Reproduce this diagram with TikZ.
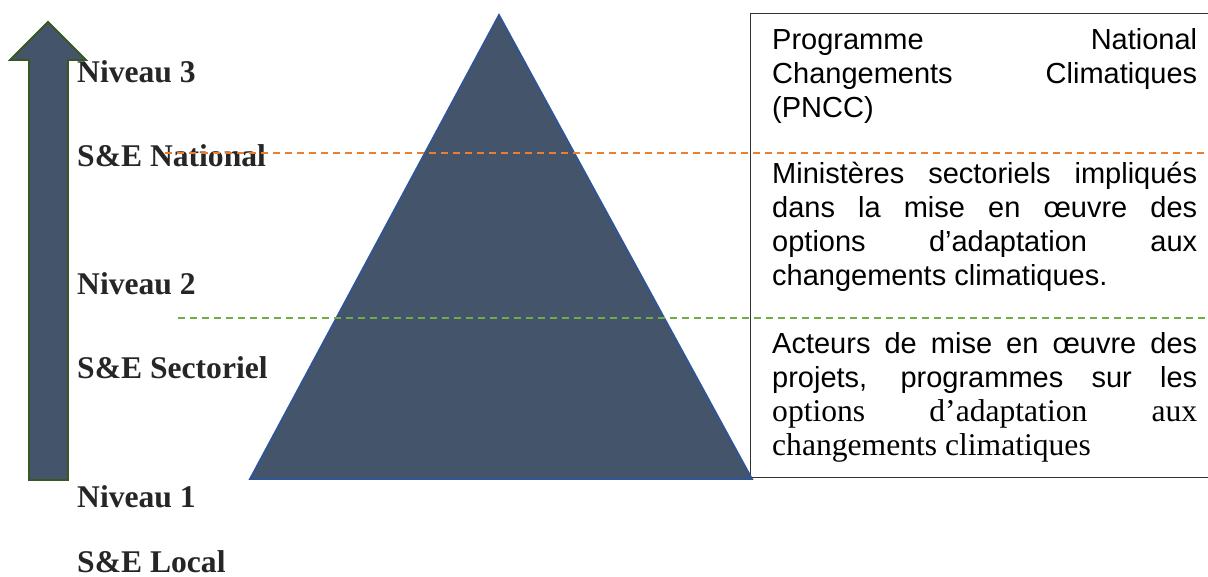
\documentclass[tikz,border=0pt]{standalone}
\usepackage{fontspec}
\usepackage{xcolor}
\setmainfont{Liberation Serif}
\newfontfamily\arialfont{Liberation Sans}
\definecolor{slate}{HTML}{44546A}
\definecolor{edgeblue}{HTML}{2F5597}
\definecolor{edgegreen}{HTML}{385723}
\definecolor{lineorange}{HTML}{ED7D31}
\definecolor{linegreen}{HTML}{70AD47}
\definecolor{labelgray}{HTML}{262626}
\tikzset{
    level-label/.style = {anchor=base west, inner sep=0pt, text=labelgray, font=\fontsize{31.6}{36}\selectfont\bfseries},
    info-text/.style = {anchor=base west, inner sep=0pt, font=\arialfont\fontsize{29}{33.8}\selectfont},
    info-box/.style = {draw=black!80, fill=white, line width=1.2pt, anchor=north west, minimum width=560pt, minimum height=464pt},
    level-line/.style = {dash pattern=on 7pt off 5pt, line width=1.5pt},
}
\newcommand{\fullline}[1]{\hbox to 425pt{#1}}
\newcommand{\serifpart}{\rmfamily\fontsize{31.6}{33.8}\selectfont}

\begin{document}
\begin{tikzpicture}[x=1pt, y=-1pt]
\useasboundingbox (0,0) rectangle (1208,577);
\clip (0,0) rectangle (1208,577);
% box on the right
\node[info-box] (box) at (750,13) {};
\node[info-text] (pncc) at (772,50) {\vtop{\baselineskip=33.8pt
    \fullline{Programme National}
    \fullline{Changements Climatiques}
    \hbox{(PNCC)}}};
\node[info-text] (ministeres) at (772,184) {\vtop{\baselineskip=33.8pt
    \fullline{Ministères sectoriels impliqués}
    \fullline{dans la mise en œuvre des}
    \fullline{options d’adaptation aux}
    \hbox{changements climatiques.}}};
\node[info-text] (acteurs) at (772,354) {\vtop{\baselineskip=33.8pt
    \fullline{Acteurs de mise en œuvre des}
    \fullline{projets, programmes sur les}
    \fullline{\serifpart options d’adaptation aux}
    \hbox{\serifpart changements climatiques}}};
% pyramid and arrow
\draw[fill=slate, draw=edgeblue, line width=1.8pt] (250,479) -- (499,15) -- (752,479) -- cycle;
\draw[fill=slate, draw=edgegreen, line width=1.8pt, line join=miter]
    (29,480) -- (29,60) -- (10,60) -- (48,22) -- (86,60) -- (68,60) -- (68,480) -- cycle;
% levels
\node[level-label] (niveau3) at (77,83) {Niveau 3};
\node[level-label] (national) at (77,167) {S\&E National};
\node[level-label] (niveau2) at (77,295) {Niveau 2};
\node[level-label] (sectoriel) at (77,379) {S\&E Sectoriel};
\node[level-label] (niveau1) at (77,507) {Niveau 1};
\node[level-label] (local) at (77,572) {S\&E Local};
% separators
\coordinate (orange-start) at (165,153);
\coordinate (orange-end) at (1208,153);
\coordinate (green-start) at (178,318);
\coordinate (green-end) at (1208,318);
\draw[level-line, lineorange] (orange-start) -- (orange-end);
\draw[level-line, linegreen] (green-start) -- (green-end);
\end{tikzpicture}
\end{document}
